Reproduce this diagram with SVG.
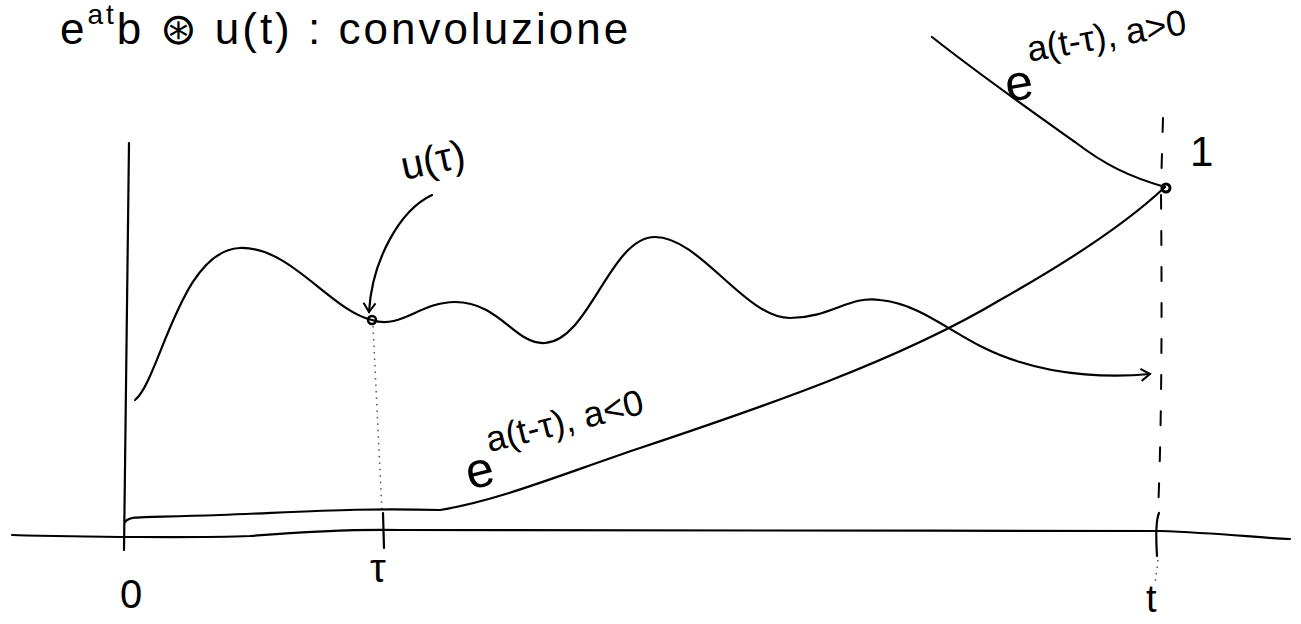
<svg xmlns="http://www.w3.org/2000/svg" width="1301" height="624" viewBox="0 0 1301 624">
<style>
.ln{fill:none;stroke:#000;stroke-width:2.2;stroke-linecap:round;stroke-linejoin:round}
.dash{fill:none;stroke:#000;stroke-width:2;stroke-dasharray:14 22;stroke-linecap:round}
.dot{fill:none;stroke:#555;stroke-width:1.5;stroke-dasharray:1.5 5}
.hw{font-family:"Liberation Sans",sans-serif;fill:#000;font-weight:normal}
</style>
<defs>
<marker id="ah" markerWidth="14" markerHeight="14" refX="10" refY="7" orient="auto" markerUnits="userSpaceOnUse">
<path d="M1,1 L10,7 L1,13" fill="none" stroke="#000" stroke-width="2"/>
</marker>
</defs>
<g id="title"><text class="hw" x="60" y="44" font-size="44" letter-spacing="3">e<tspan font-size="28" dy="-20">at</tspan><tspan dy="20">b ⊛ u(t) : convoluzione</tspan></text></g>
<g id="connectors">
<path id="t-axis" class="ln" d="M12,535 C80,537 200,538 250,536 C300,532 350,529 400,530 C600,532 900,530 1160,531 C1220,533 1260,538 1290,539"/>
<path id="y-axis" class="ln" d="M129,143 L124,550"/>
<path class="ln" d="M383,513 L384,548"/>
<path class="ln" d="M1159,513 C1156,520 1156,540 1157,556"/>
<path class="dot" d="M373,326 L382,512"/>
<path class="dot" d="M1158,560 L1155,584"/>
<path class="dash" d="M1163,118 L1161,188 M1161,195 C1162,300 1162,420 1158,512"/>
<path id="u-curve" class="ln" marker-end="url(#ah)" d="M135,400 C160,380 180,250 240,248 C290,246 330,310 372,320 C400,330 420,302 455,302 C500,302 515,345 545,343 C590,340 610,237 655,237 C700,237 745,318 790,318 C830,318 850,295 880,300 C930,305 960,345 1020,362 C1060,375 1110,378 1150,374"/>
<path id="exp-neg" class="ln" d="M125,522 C130,515 140,518 220,515 C320,511 360,508 440,510 C500,500 560,475 640,448 C760,408 900,360 1000,300 C1080,255 1130,220 1165,187"/>
<path id="exp-pos" class="ln" d="M932,37 C980,75 1030,110 1075,142 C1105,165 1130,177 1165,187"/>
<path id="u-arrow" class="ln" marker-end="url(#ah)" d="M432,195 C400,210 372,260 369,312"/>
<circle cx="372" cy="320" r="4" fill="none" stroke="#000" stroke-width="2.5"/>
<circle cx="1166" cy="188" r="4" fill="none" stroke="#000" stroke-width="3"/>
</g>
<g id="labels">
<text class="hw" x="404" y="180" font-size="40" transform="rotate(-12 404 180)">u(τ)</text>
<text class="hw" x="1008" y="102" font-size="50" transform="rotate(-10 1008 102)">e<tspan font-size="36" dy="-36">a(t-τ), a&gt;0</tspan></text>
<text class="hw" x="1190" y="166" font-size="42">1</text>
<text class="hw" x="470" y="490" font-size="50" transform="rotate(-14 470 490)">e<tspan font-size="36" dy="-32">a(t-τ), a&lt;0</tspan></text>
<text class="hw" x="120" y="608" font-size="40">0</text>
<text class="hw" x="370" y="582" font-size="40">τ</text>
<text class="hw" x="1146" y="612" font-size="38">t</text>
</g>
</svg>
